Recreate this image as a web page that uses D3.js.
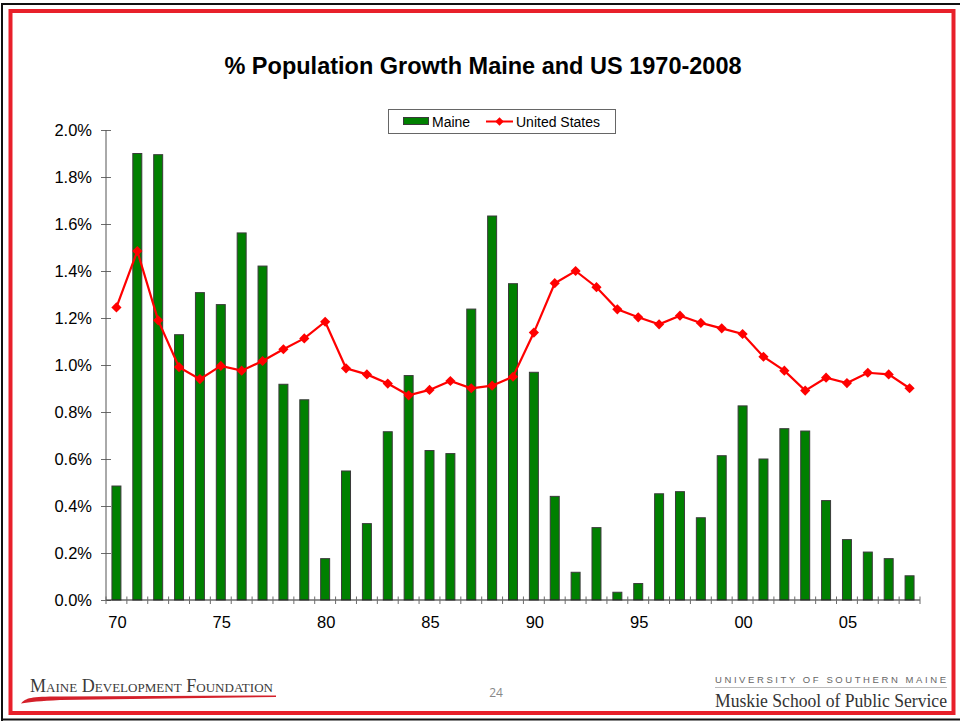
<!DOCTYPE html>
<html>
<head>
<meta charset="utf-8">
<script src="https://cdn.jsdelivr.net/npm/d3@7"></script>
<style>
  body { margin: 0; background: #fff; }
  svg { display: block; }
</style>
</head>
<body>
<svg id="slide" width="960" height="721"></svg>
<script>
// data (percent growth)
var years = d3.range(1970, 2009);
var maine = [0.485, 1.90, 1.895, 1.129, 1.308, 1.257, 1.562, 1.421, 0.918, 0.852,
  0.176, 0.549, 0.325, 0.716, 0.955, 0.636, 0.623, 1.238, 1.634, 1.346,
  0.969, 0.441, 0.118, 0.308, 0.033, 0.070, 0.452, 0.461, 0.350, 0.614,
  0.826, 0.600, 0.729, 0.719, 0.423, 0.257, 0.204, 0.176, 0.103];
var us = [1.245, 1.485, 1.190, 0.991, 0.940, 0.996, 0.976, 1.017, 1.067, 1.113,
  1.184, 0.986, 0.960, 0.921, 0.871, 0.894, 0.932, 0.901, 0.912, 0.950,
  1.138, 1.348, 1.400, 1.331, 1.237, 1.203, 1.173, 1.210, 1.179, 1.156,
  1.132, 1.035, 0.976, 0.891, 0.946, 0.923, 0.967, 0.960, 0.901];
var yTicks = [0, 0.2, 0.4, 0.6, 0.8, 1.0, 1.2, 1.4, 1.6, 1.8, 2.0];
var xLabelYears = [1970, 1975, 1980, 1985, 1990, 1995, 2000, 2005];
var seriesNames = ['Maine', 'United States'];

drawSlide();

function drawSlide() {
  var svg = d3.select('#slide');
  var font = "'Liberation Sans', Arial, sans-serif";
  var serif = "'Liberation Serif', 'Times New Roman', serif";

  // slide frame
  svg.append('path')
    .attr('d', 'M 2,721 L 2,4 L 960,4 M 2,719.5 L 960,719.5')
    .attr('fill', 'none')
    .attr('stroke', '#111')
    .attr('stroke-width', 2);
  svg.append('rect')
    .attr('x', 10.5).attr('y', 11)
    .attr('width', 943).attr('height', 702)
    .attr('fill', 'none')
    .attr('stroke', '#e8202a')
    .attr('stroke-width', 4);

  // title
  svg.append('text')
    .attr('x', 483).attr('y', 74)
    .attr('text-anchor', 'middle')
    .style('font-family', font)
    .style('font-weight', 'bold')
    .style('font-size', '23.5px')
    .text('% Population Growth Maine and US 1970-2008');

  var plotLeft = 106, plotRight = 920, plotTop = 130, plotBottom = 600;

  var x = d3.scaleBand()
    .domain(years)
    .range([plotLeft, plotRight])
    .paddingInner(0.57)
    .paddingOuter(0.285);
  var step = x.step();
  var cx = function(yr) { return x(yr) + x.bandwidth() / 2; };

  var y = d3.scaleLinear()
    .domain([0, 2.0])
    .range([plotBottom, plotTop]);

  // y axis
  var yAxis = svg.append('g')
    .attr('transform', 'translate(' + plotLeft + ',0)')
    .call(d3.axisLeft(y)
      .tickValues(yTicks)
      .tickSize(5)
      .tickPadding(9)
      .tickFormat(function(d) { return d.toFixed(1) + '%'; }));
  yAxis.select('.domain').remove();
  yAxis.selectAll('.tick line')
    .attr('x1', 5)
    .attr('stroke', '#6b6b6b');
  yAxis.selectAll('text')
    .style('font-family', font)
    .style('font-size', '16.5px')
    .attr('fill', '#000');
  svg.append('line')
    .attr('x1', plotLeft).attr('x2', plotLeft)
    .attr('y1', plotTop).attr('y2', plotBottom)
    .attr('stroke', '#555');

  // maine bars
  svg.append('g').selectAll('rect')
    .data(years)
    .enter()
    .append('rect')
    .attr('x', function(d) { return x(d); })
    .attr('y', function(d, i) { return y(maine[i]); })
    .attr('width', x.bandwidth())
    .attr('height', function(d, i) { return plotBottom - y(maine[i]); })
    .attr('fill', '#008000')
    .attr('stroke', '#3a3a3a')
    .attr('stroke-width', 1);

  // x axis with ticks at category boundaries
  var bounds = d3.range(years.length + 1).map(function(i) { return plotLeft + i * step; });
  svg.append('line')
    .attr('x1', plotLeft).attr('x2', plotRight)
    .attr('y1', plotBottom).attr('y2', plotBottom)
    .attr('stroke', '#222');
  svg.append('g').selectAll('line')
    .data(bounds)
    .enter()
    .append('line')
    .attr('x1', function(d) { return d; })
    .attr('x2', function(d) { return d; })
    .attr('y1', plotBottom - 3.5)
    .attr('y2', plotBottom + 4)
    .attr('stroke', '#6b6b6b');
  svg.append('g').selectAll('text')
    .data(xLabelYears)
    .enter()
    .append('text')
    .attr('x', function(d) { return cx(d) + 1; })
    .attr('y', 628)
    .attr('text-anchor', 'middle')
    .style('font-family', font)
    .style('font-size', '16.5px')
    .text(function(d) { return String(d % 100).padStart(2, '0'); });

  // US line
  var line = d3.line()
    .x(function(d) { return cx(d); })
    .y(function(d, i) { return y(us[i]); });
  svg.append('path')
    .datum(years)
    .attr('d', line)
    .attr('fill', 'none')
    .attr('stroke', '#ff0000')
    .attr('stroke-width', 2.2);
  var diamond = d3.symbol().type(d3.symbolSquare).size(52);
  svg.append('g').selectAll('path')
    .data(years)
    .enter()
    .append('path')
    .attr('d', diamond)
    .attr('transform', function(d, i) {
      return 'translate(' + cx(d) + ',' + y(us[i]) + ') rotate(45)';
    })
    .attr('fill', '#ff0000');

  // legend
  var legend = svg.append('g');
  legend.append('rect')
    .attr('x', 388.5).attr('y', 109.5)
    .attr('width', 227).attr('height', 24)
    .attr('fill', '#fff')
    .attr('stroke', '#666');
  legend.append('rect')
    .attr('x', 403.5).attr('y', 117.5)
    .attr('width', 25).attr('height', 7)
    .attr('fill', '#008000')
    .attr('stroke', '#3a3a3a');
  legend.append('line')
    .attr('x1', 486).attr('x2', 513)
    .attr('y1', 121.5).attr('y2', 121.5)
    .attr('stroke', '#ff0000')
    .attr('stroke-width', 2);
  legend.append('path')
    .attr('d', d3.symbol().type(d3.symbolSquare).size(36))
    .attr('transform', 'translate(499.5,121.5) rotate(45)')
    .attr('fill', '#ff0000');
  legend.selectAll('text.lg')
    .data(seriesNames)
    .enter()
    .append('text')
    .attr('class', 'lg')
    .attr('x', function(d, i) { return i === 0 ? 432 : 516; })
    .attr('y', 126.5)
    .style('font-family', font)
    .style('font-size', '14px')
    .text(function(d) { return d; });

  // footer
  svg.append('path')
    .attr('d', 'M 21,703.5 C 26,698 30,696.5 60,696.5 L 276,695.5 L 276,697 L 60,700 C 40,701 30,702 21,703.5 Z')
    .attr('fill', '#d4202a');
  svg.append('text')
    .attr('x', 30).attr('y', 692)
    .attr('textLength', 243)
    .attr('lengthAdjust', 'spacingAndGlyphs')
    .style('font-family', serif)
    .style('font-size', '18px')
    .style('font-variant', 'small-caps')
    .attr('fill', '#3a3a3a')
    .text('Maine Development Foundation');

  svg.append('text')
    .attr('x', 496).attr('y', 697)
    .attr('text-anchor', 'middle')
    .style('font-family', "'Open Sans', sans-serif")
    .style('font-size', '12px')
    .attr('fill', '#888')
    .text('24');

  svg.append('text')
    .attr('x', 715).attr('y', 683)
    .attr('textLength', 231)
    .attr('lengthAdjust', 'spacing')
    .style('font-family', font)
    .style('font-size', '9.5px')
    .attr('fill', '#666')
    .text('UNIVERSITY OF SOUTHERN MAINE');
  svg.append('line')
    .attr('x1', 715).attr('x2', 947)
    .attr('y1', 687.5).attr('y2', 687.5)
    .attr('stroke', '#bbb');
  svg.append('text')
    .attr('x', 715).attr('y', 707)
    .attr('textLength', 232)
    .attr('lengthAdjust', 'spacingAndGlyphs')
    .style('font-family', serif)
    .style('font-size', '19px')
    .attr('fill', '#333')
    .text('Muskie School of Public Service');
}
</script>
</body>
</html>
